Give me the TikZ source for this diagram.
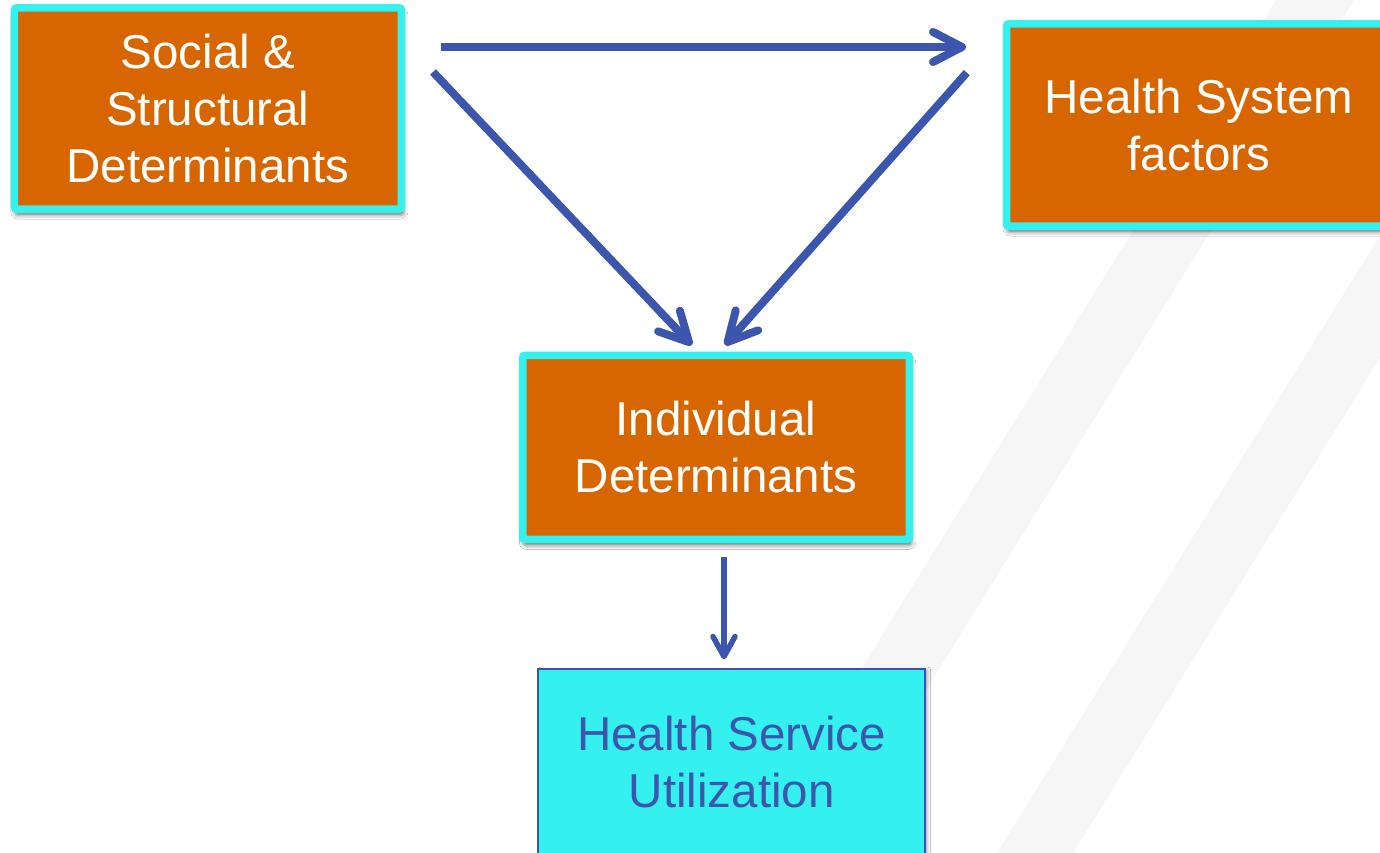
\documentclass[tikz,border=0pt]{standalone}
\usepackage{fontspec}
\setmainfont{Liberation Sans}
\usetikzlibrary{arrows.meta,shadows.blur}

\begin{document}
\begin{tikzpicture}[x = 1pt, y = -1pt,
	box/.style = {draw = boxcyan, line width = 7.5pt, fill = boxorange, rounded corners = 2pt,
		text = white, align = center, font = \fontsize{47.5}{57}\selectfont,
		blur shadow = {shadow xshift = 1.5pt, shadow yshift = -5pt, shadow blur radius = 5pt, shadow opacity = 70}},
	outbox/.style = {draw = outline, line width = 2pt, fill = boxcyan,
		text = arrowblue, align = center, font = \fontsize{47.5}{57}\selectfont,
		blur shadow = {shadow xshift = 2.5pt, shadow yshift = -1pt, shadow blur radius = 3pt, shadow opacity = 30}},
	arr/.style = {arrowblue, line width = 8pt, -{Straight Barb[length = 29pt, width = 30pt, line width = 8pt, round]}}]
	
		\definecolor{boxorange}{RGB}{216, 102, 0}
		\definecolor{boxcyan}{RGB}{52, 240, 238}
		\definecolor{arrowblue}{RGB}{59, 86, 172}
		\definecolor{outline}{RGB}{63, 81, 181}
		\definecolor{stripe}{RGB}{246, 246, 246}
		
		\useasboundingbox (0, 0) rectangle (1380, 853);
		\fill[white] (0, 0) rectangle (1380, 853);
		
		% Diagonal background bands
		\begin{scope}
			\clip (0, 0) rectangle (1380, 853);
			\fill[stripe] (1276, 0) -- (1354, 0) -- (825, 853) -- (747, 853) -- cycle;
			\fill[stripe] (1526, 0) -- (1602, 0) -- (1073, 853) -- (997, 853) -- cycle;
		\end{scope}
		
		% Determinant boxes
		\node[box, minimum width = 387, minimum height = 201] (social) at (207.9, 108.5) {Social \&\\Structural\\Determinants};
		\node[box, minimum width = 385, minimum height = 202] (system) at (1199, 125) {Health System\\factors};
		\node[box, minimum width = 386.5, minimum height = 184] (indiv) at (716, 447.4) {Individual\\Determinants};
		
		% Outcome box
		\node[outbox, minimum width = 386.7, minimum height = 187] (use) at (731.7, 762.5) {Health Service\\Utilization};
		
		% Arrows between the boxes
		\draw[arr] ([shift = {(35.85, 42.75)}] social.north east) -- ([shift = {(-36.75, 26.75)}] system.north west);
		\draw[arr] ([shift = {(27.85, 67.75)}] social.north east) -- ([shift = {(-24.3, -6.65)}] indiv.north);
		\draw[arr] ([shift = {(-36, 52.45)}] system.north west) -- ([shift = {(9, -6.65)}] indiv.north);
		
		\draw[arr, line width = 5.5pt, -{Straight Barb[length = 20pt, width = 22pt, line width = 5.5pt, round]}]
			([shift = {(8, 13.5)}] indiv.south) -- ([shift = {(-7.7, -8.7)}] use.north);
		
	\end{tikzpicture}
\end{document}
